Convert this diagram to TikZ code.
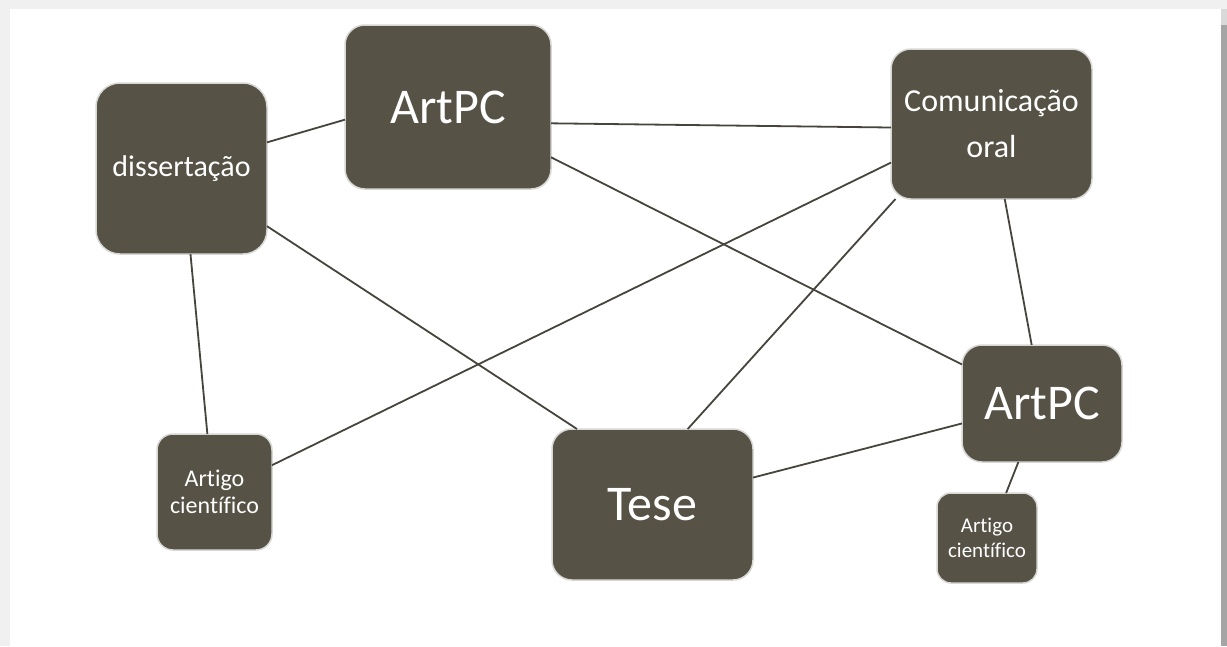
\documentclass[tikz,border=0pt]{standalone}
\usepackage{fontspec}
\setmainfont{Carlito}[Ligatures={NoCommon}]
\definecolor{boxfill}{RGB}{86,82,70}
\definecolor{boxedge}{RGB}{215,215,212}
\definecolor{linkcol}{RGB}{70,68,60}
\definecolor{framelight}{RGB}{240,240,240}
\definecolor{framedark}{RGB}{165,165,165}
\tikzset{
  box/.style={draw=boxedge, fill=boxfill, line width=1.5pt, rounded corners=20pt,
    text=white, inner sep=0pt, outer sep=0pt, align=center},
  link/.style={draw=linkcol, line width=1.8pt},
}
\begin{document}
\begin{tikzpicture}[x=1pt,y=-1pt]
\useasboundingbox (0,0) rectangle (1227,646);
\fill[framelight] (0,0) rectangle (1227,646);
\fill[white] (10,9) rectangle (1221,646);
\fill[framedark] (1221,25) rectangle (1227,646);
\fill[gray!30] (1221,9) rectangle (1227,25);

\node[box, minimum width=171pt, minimum height=171pt, rounded corners=24pt,
  font=\fontsize{30}{36}\selectfont] (d) at (181.5,168.5) {dissertação};
\node[box, minimum width=206pt, minimum height=164pt,
  font=\fontsize{50}{56}\selectfont] (a1) at (448,107) {ArtPC};
\node[box, minimum width=201pt, minimum height=150pt,
  font=\fontsize{32}{46}\selectfont] (c) at (991.5,124) {Comunicação\\oral};
\node[box, minimum width=160pt, minimum height=117pt,
  font=\fontsize{50}{56}\selectfont] (r) at (1042,403.5) {ArtPC};
\node[box, minimum width=115pt, minimum height=116pt, rounded corners=16pt,
  font=\fontsize{24}{27}\selectfont] (l) at (214.5,492) {Artigo\\científico};
\node[box, minimum width=201pt, minimum height=151pt,
  font=\fontsize{50}{56}\selectfont] (t) at (652.5,504.5) {Tese};
\node[box, minimum width=100pt, minimum height=90pt, rounded corners=14pt,
  font=\fontsize{21}{25}\selectfont] (s) at (987,538) {Artigo\\científico};

\draw[link] (d.17) -- (a1.-173);
\draw[link] (d.-34) -- (t.135);
\draw[link] (d.-84) -- (l.97);
\draw[link] (a1.-9) -- (c.-178);
\draw[link] (a1.-26) -- (r.154);
\draw[link] (c.-159) -- (l.25);
\draw[link] (c.-142) -- (t.65);
\draw[link] (c.-80) -- (r.100);
\draw[link] (r.194) -- (t.15);
\draw[link] (r.-112) -- (s.67);
\end{tikzpicture}
\end{document}
